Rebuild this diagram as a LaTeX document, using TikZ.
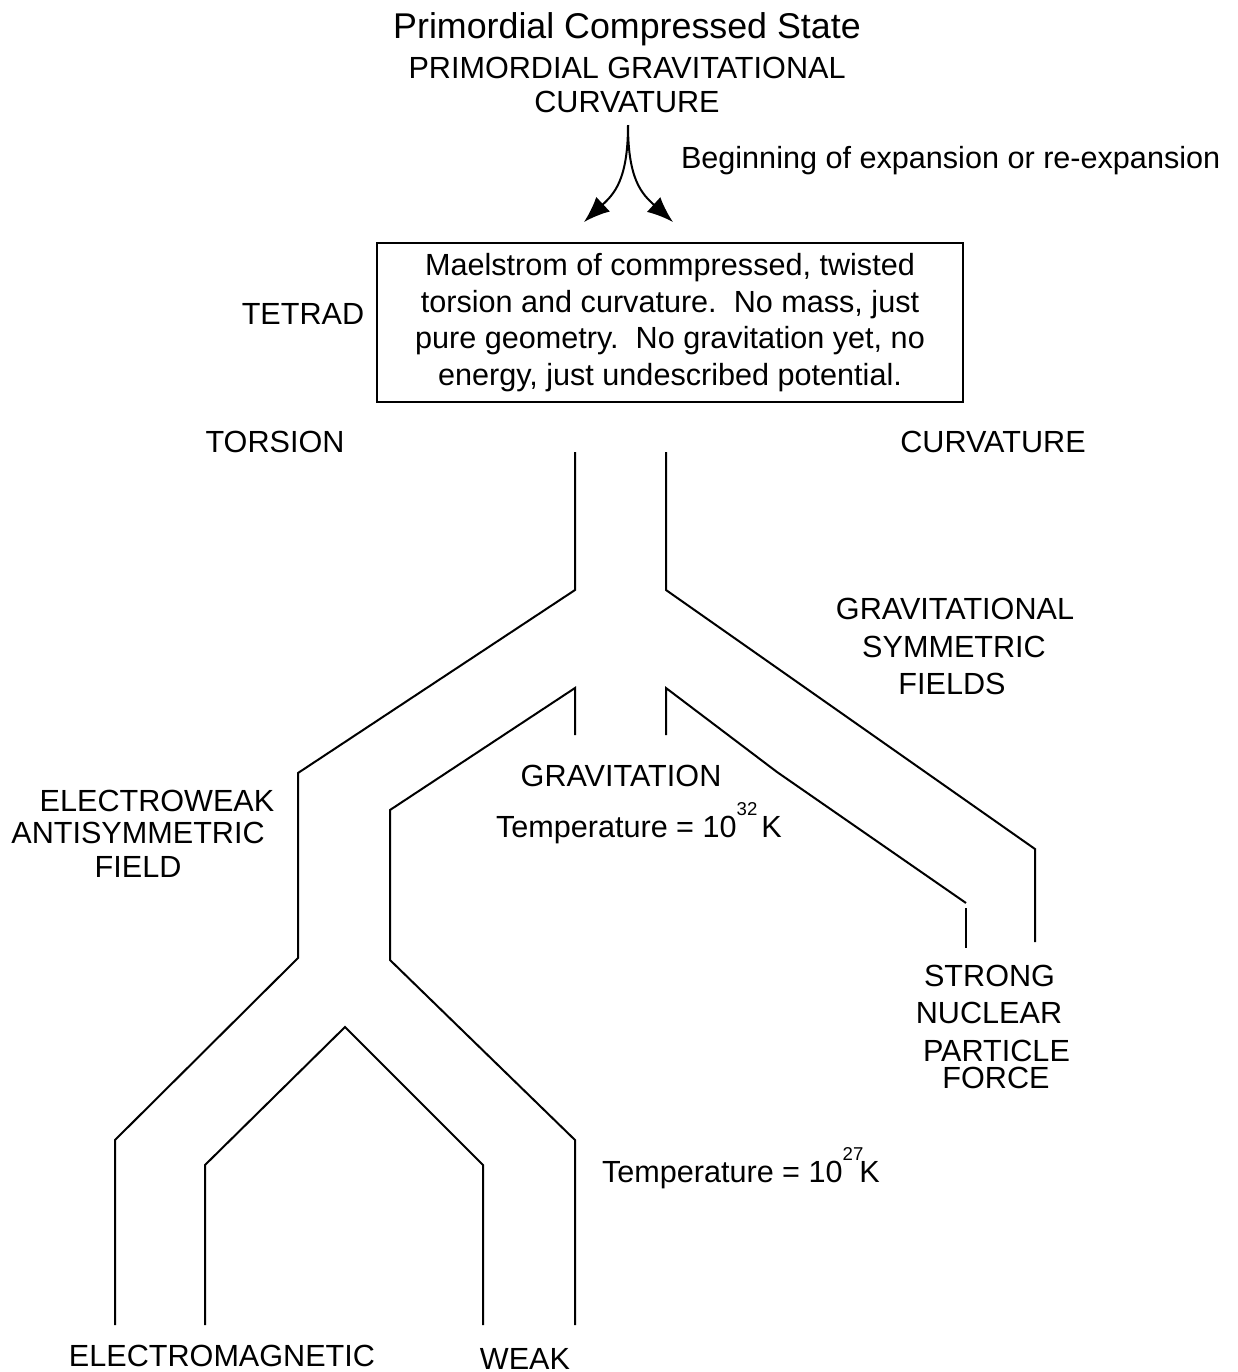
\documentclass[tikz,border=0pt]{standalone}
\usepackage{fontspec}
\setmainfont{Liberation Sans}
\usetikzlibrary{arrows.meta}
\newcommand{\supnum}[1]{\raisebox{11pt}{\fontsize{9.3}{9.3}\selectfont #1}}
\begin{document}
\begin{tikzpicture}[x=0.5pt,y=-0.5pt,line width=1pt,
  lbl/.style={anchor=base,inner sep=0pt,font=\fontsize{15.3}{18}\selectfont},
  title/.style={anchor=base,inner sep=0pt,font=\fontsize{17.9}{20}\selectfont},
  tip/.style={-{Latex[length=13pt,width=10pt]}}]
\useasboundingbox (0,0) rectangle (1238,1372);

% titles
\node[title] (t1) at (627,38) {Primordial Compressed State};
\node[lbl] (t2) at (627,78) {PRIMORDIAL GRAVITATIONAL};
\node[lbl] (t3) at (627,112) {CURVATURE};
\node[lbl,anchor=base west] (beg) at (680,168) {Beginning of expansion or re-expansion};

% split arrows
\coordinate (src) at (628,125);
\coordinate (la) at (584,222);
\coordinate (ra) at (673,222);
\draw[tip] (src) .. controls (628,180) and (614,194) .. (la);
\draw[tip] (src) .. controls (628,180) and (642,194) .. (ra);

% box
\node[draw,line width=1pt,minimum width=293pt,minimum height=79.5pt,inner sep=0pt,
      align=center,font=\fontsize{15.3}{18.25}\selectfont] (box) at (670,322.5)
 {Maelstrom of commpressed, twisted\\
  torsion and curvature.\ \ No mass, just\\
  pure geometry.\ \ No gravitation yet, no\\
  energy, just undescribed potential.};

\node[lbl] (tetrad) at (303,324) {TETRAD};
\node[lbl] (torsion) at (275,452) {TORSION};
\node[lbl] (curv) at (993,452) {CURVATURE};

\node[lbl] (g1) at (955,619) {GRAVITATIONAL};
\node[lbl] (g2) at (954,657) {SYMMETRIC};
\node[lbl] (g3) at (952,694) {FIELDS};

\node[lbl] (e1) at (157,811) {ELECTROWEAK};
\node[lbl] (e2) at (138,843) {ANTISYMMETRIC};
\node[lbl] (e3) at (138,877) {FIELD};

\node[lbl] (grav) at (621,786) {GRAVITATION};
\node[lbl,anchor=base west] (temp1) at (495,837) {Temperature = 10\supnum{32}\kern2pt K};

\node[lbl] (s1) at (989.5,986) {STRONG};
\node[lbl] (s2) at (989,1023) {NUCLEAR};
\node[lbl] (s3) at (996.5,1061) {PARTICLE};
\node[lbl] (s4) at (996,1088) {FORCE};

\node[lbl,anchor=base west] (temp2) at (601,1182) {Temperature = 10\supnum{27}\kern-2pt K};

\node[lbl] (em) at (222,1366) {ELECTROMAGNETIC};
\node[lbl] (weak) at (525,1369) {WEAK};

% branches
\draw (575,452) -- (575,590) -- (298,773) -- (298,958) -- (115,1140) -- (115,1325);
\draw (666,452) -- (666,590) -- (1035,849) -- (1035,942);
\draw (575,735) -- (575,688) -- (390,810) -- (390,960) -- (575,1140) -- (575,1325);
\draw (666,735) -- (666,688) -- (777,772) -- (966,903);
\draw (966,908) -- (966,948);
\draw (205,1325) -- (205,1165) -- (345,1027) -- (483,1165) -- (483,1325);
\end{tikzpicture}
\end{document}
